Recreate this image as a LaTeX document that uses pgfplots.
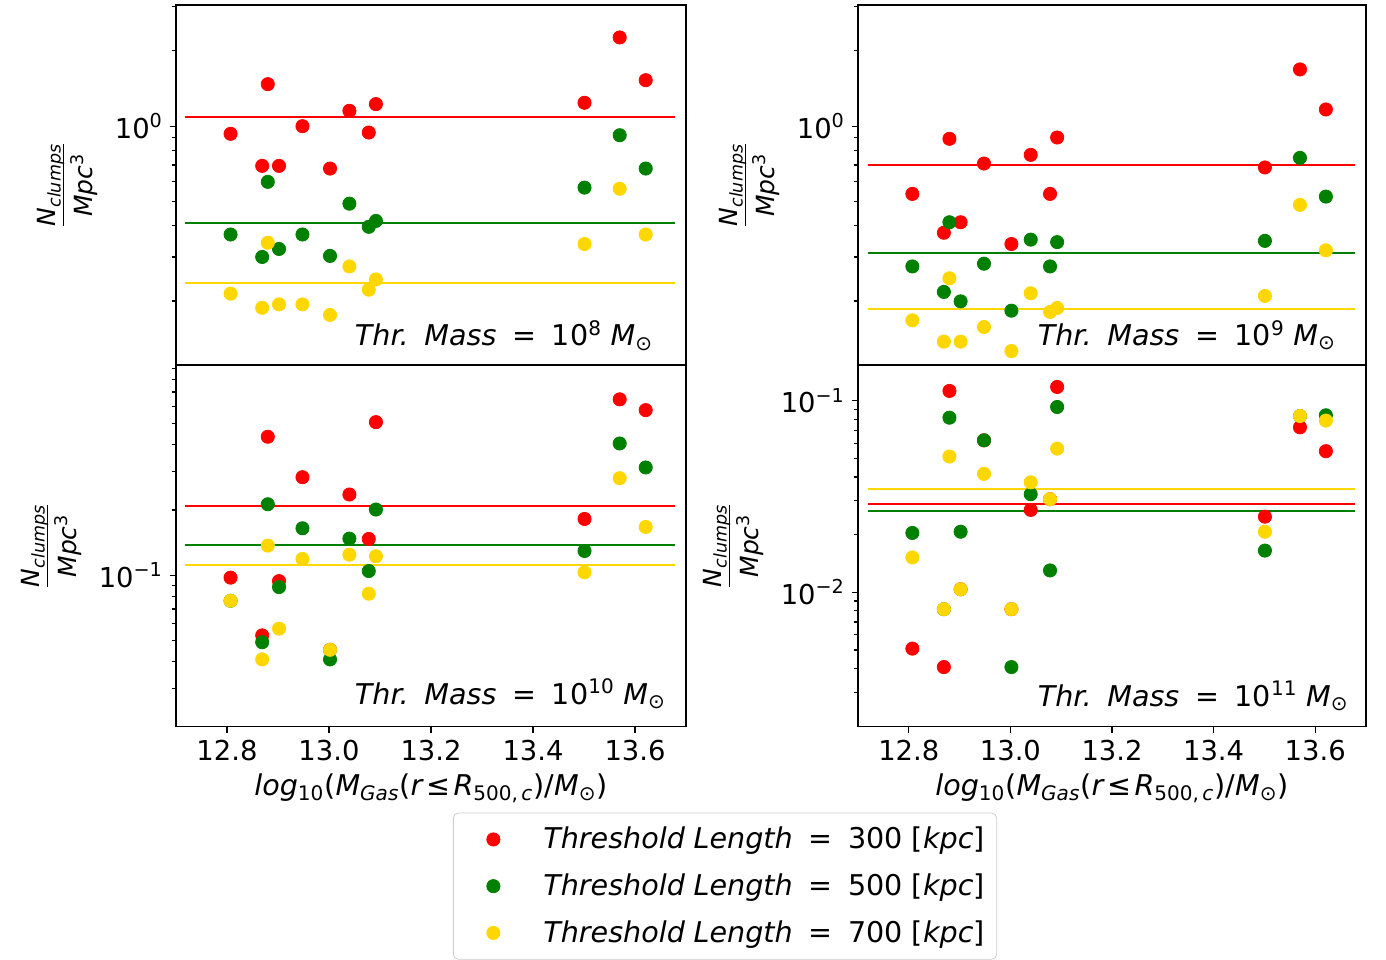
\documentclass[border=0pt]{standalone}
\usepackage{fontspec}
\setmainfont{DejaVu Sans}
\usepackage{pgfplots}
\usepackage{pgfplotstable}
\pgfplotsset{compat=1.18}

\definecolor{cR}{RGB}{255,0,0}
\definecolor{cG}{RGB}{0,128,0}
\definecolor{cY}{RGB}{255,215,0}

\newcommand{\fs}{\fontsize{13.7}{16}\selectfont}
\newcommand{\fl}{\fontsize{14.3}{17}\selectfont}
\newcommand{\ylab}{\begin{tabular}{@{}c@{}}\textit{N}\textsubscript{\textit{clumps}}\\[-1pt]\hline\rule{0pt}{1.15em}\textit{Mpc}\textsuperscript{3}\end{tabular}}
\newcommand{\xlab}{\textit{log}\textsubscript{10}(\textit{M}\textsubscript{\textit{Gas}}(\textit{r}\hspace{0.1em}≤\hspace{0.1em}\textit{R}\textsubscript{500,\,\textit{c}})/\textit{M}\textsubscript{⊙})}
\newcommand{\thr}[1]{\textit{Thr.}\hspace{0.55em}\textit{Mass}\hspace{0.55em}=\hspace{0.55em}10\textsuperscript{#1}\hspace{0.3em}\textit{M}\textsubscript{⊙}}
\newcommand{\leg}[1]{\textit{Threshold}\hspace{0.3em}\textit{Length}\hspace{0.55em}=\hspace{0.55em}#1 [\textit{kpc}]}

\pgfplotstableread{
x r g y
12.807 0.932 0.369 0.214
12.869 0.694 0.300 0.188
12.880 1.472 0.599 0.342
12.902 0.694 0.323 0.194
12.948 1.000 0.369 0.194
13.002 0.677 0.303 0.176
13.040 1.152 0.490 0.275
13.078 0.943 0.396 0.222
13.092 1.225 0.418 0.244
13.501 1.240 0.568 0.338
13.570 2.263 0.920 0.562
13.621 1.527 0.677 0.369
}\tA

\pgfplotstableread{
x r g y
12.807 0.536 0.275 0.1675
12.869 0.375 0.2175 0.1376
12.880 0.890 0.413 0.2466
12.902 0.413 0.1995 0.1376
12.948 0.709 0.282 0.1575
13.002 0.338 0.183 0.1262
13.040 0.768 0.352 0.2148
13.078 0.536 0.275 0.181
13.092 0.901 0.344 0.1877
13.501 0.684 0.348 0.2096
13.570 1.686 0.747 0.4845
13.621 1.166 0.523 0.319
}\tC

\pgfplotstableread{
x r g y
12.807 0.0976 0.0764 0.0764
12.869 0.0529 0.0492 0.041
12.880 0.435 0.2126 0.1371
12.902 0.0941 0.0883 0.0568
12.948 0.2833 0.1648 0.1189
13.002 0.0454 0.041 0.0454
13.040 0.2357 0.1476 0.1245
13.078 0.1471 0.1047 0.0823
13.092 0.508 0.2010 0.1224
13.501 0.1819 0.1295 0.1032
13.570 0.647 0.405 0.2803
13.621 0.577 0.314 0.1671
}\tB

\pgfplotstableread{
x r g y
12.807 0.00508 0.0204 0.0152
12.869 0.00407 0.00816 0.00816
12.880 0.1124 0.0815 0.0511
12.902 0.01037 0.0207 0.01037
12.948 0.0621 0.0621 0.0415
13.002 0.00816 0.00407 0.00816
13.040 0.0269 0.0325 0.0375
13.078 0.0306 0.0130 0.0306
13.092 0.1179 0.0927 0.0562
13.501 0.0248 0.0165 0.0207
13.570 0.0726 0.0832 0.0832
13.621 0.0545 0.0839 0.0787
}\tD

\pgfplotsset{
  myax/.style={
    scale only axis, xmin=12.7, xmax=13.7,
    tick align=outside, tick pos=left,
    axis line style={line width=0.6pt},
    every tick/.style={black, line width=0.6pt},
    major tick length=3pt, minor tick length=1.8pt,
    tick label style={font=\fs},
    xtick={12.8,13.0,13.2,13.4,13.6},
    xticklabels={12.8,13.0,13.2,13.4,13.6},
    ylabel={\ylab},
    ylabel style={font=\fontsize{12.5}{15}\selectfont},
    xlabel style={font=\fl},
    legend cell align=left,
  },
  topminor/.style={ytick={1}, yticklabels={10\textsuperscript{0}}, minor ytick={0.2,0.3,0.4,0.5,0.6,0.7,0.8,0.9,2,3}},
}
\tikzset{
  pts/.style={only marks, mark=*, mark size=3.3pt, color=#1, mark options={fill=#1, draw=#1}},
  hl/.style={color=#1, line width=1pt},
}

\begin{document}
\begin{tikzpicture}
\useasboundingbox (0,0) rectangle (693pt,-479.5pt);

% top left
\begin{axis}[ymode=log, myax, at={(88pt,-2.5pt)}, anchor=north west, width=255pt, height=180pt,
  ymin=0.111, ymax=3.05, topminor, xtick=\empty]
\addplot[pts=cR] table[x=x,y=r]{\tA};
\addplot[hl=cR, no marks, forget plot] coordinates {(12.717,1.090) (13.678,1.090)};
\addplot[pts=cG] table[x=x,y=g]{\tA};
\addplot[hl=cG, no marks, forget plot] coordinates {(12.717,0.411) (13.678,0.411)};
\addplot[pts=cY] table[x=x,y=y]{\tA};
\addplot[hl=cY, no marks, forget plot] coordinates {(12.717,0.2355) (13.678,0.2355)};
\node[anchor=base west, font=\fl] at (rel axis cs:0.337,0.053) {\thr{8}};
\end{axis}

% bottom left
\begin{axis}[ymode=log, myax, at={(88pt,-182.5pt)}, anchor=north west, width=255pt, height=180.8pt,
  ymin=0.0201, ymax=0.931, ytick={0.1}, yticklabels={10\textsuperscript{−1}},
  minor ytick={0.03,0.04,0.05,0.06,0.07,0.08,0.09,0.2,0.3,0.4,0.5,0.6,0.7,0.8,0.9},
  xlabel={\xlab},
  legend style={at={(1.0765,-0.238)}, anchor=north, draw=black!20, rounded corners=2.5pt,
    font=\fl, inner xsep=4pt, inner ysep=5pt, row sep=7pt,
    /tikz/every odd column/.append style={column sep=17pt}},
  legend image code/.code={\path[draw=none,fill=none] (0pt,-2pt) rectangle (22pt,2pt); \draw[#1] plot coordinates {(16pt,0pt)};}]
\addplot[pts=cR] table[x=x,y=r]{\tB};
\addlegendentry{\leg{300}}
\addplot[hl=cR, no marks, forget plot] coordinates {(12.717,0.2088) (13.678,0.2088)};
\addplot[pts=cG] table[x=x,y=g]{\tB};
\addlegendentry{\leg{500}}
\addplot[hl=cG, no marks, forget plot] coordinates {(12.717,0.1385) (13.678,0.1385)};
\addplot[pts=cY] table[x=x,y=y]{\tB};
\addlegendentry{\leg{700}}
\addplot[hl=cY, no marks, forget plot] coordinates {(12.717,0.1116) (13.678,0.1116)};
\node[anchor=base west, font=\fl] at (rel axis cs:0.337,0.062) {\thr{10}};
\end{axis}

% top right
\begin{axis}[ymode=log, myax, at={(429pt,-2.5pt)}, anchor=north west, width=254pt, height=180pt,
  ymin=0.111, ymax=3.05, topminor, xtick=\empty]
\addplot[pts=cR] table[x=x,y=r]{\tC};
\addplot[hl=cR, no marks, forget plot] coordinates {(12.719,0.700) (13.679,0.700)};
\addplot[pts=cG] table[x=x,y=g]{\tC};
\addplot[hl=cG, no marks, forget plot] coordinates {(12.719,0.3124) (13.679,0.3124)};
\addplot[pts=cY] table[x=x,y=y]{\tC};
\addplot[hl=cY, no marks, forget plot] coordinates {(12.719,0.186) (13.679,0.186)};
\node[anchor=base west, font=\fl] at (rel axis cs:0.340,0.054) {\thr{9}};
\end{axis}

% bottom right
\begin{axis}[ymode=log, myax, at={(429pt,-182.5pt)}, anchor=north west, width=254pt, height=180.8pt,
  ymin=0.00199, ymax=0.1535, ytick={0.01,0.1}, yticklabels={10\textsuperscript{−2},10\textsuperscript{−1}},
  minor ytick={0.003,0.004,0.005,0.006,0.007,0.008,0.009,0.02,0.03,0.04,0.05,0.06,0.07,0.08,0.09},
  xlabel={\xlab}]
\addplot[pts=cR] table[x=x,y=r]{\tD};
\addplot[hl=cR, no marks, forget plot] coordinates {(12.719,0.0288) (13.679,0.0288)};
\addplot[pts=cG] table[x=x,y=g]{\tD};
\addplot[hl=cG, no marks, forget plot] coordinates {(12.719,0.0266) (13.679,0.0266)};
\addplot[pts=cY] table[x=x,y=y]{\tD};
\addplot[hl=cY, no marks, forget plot] coordinates {(12.719,0.0345) (13.679,0.0345)};
\node[anchor=base west, font=\fl] at (rel axis cs:0.340,0.056) {\thr{11}};
\end{axis}
\end{tikzpicture}
\end{document}
